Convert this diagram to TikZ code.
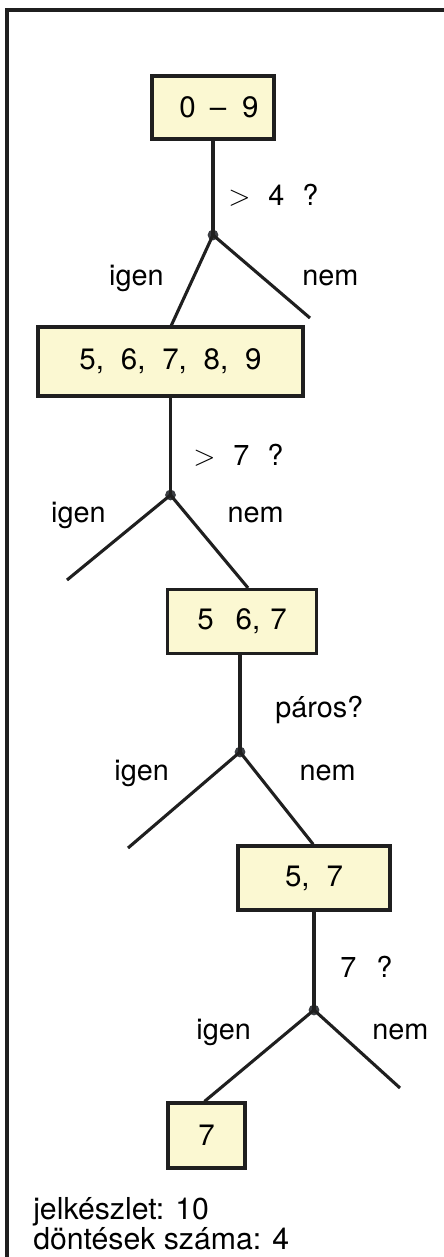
\documentclass[tikz,border=0pt]{standalone}
\usepackage{fontspec}
\setmainfont{TeX Gyre Heros}
\usetikzlibrary{calc}
\definecolor{inkgray}{HTML}{1F1F1F}
\definecolor{paleyellow}{HTML}{FBF8D2}
\definecolor{dotgray}{HTML}{3A3D42}
\newcommand{\gap}[1]{\hspace{#1cm}}

\begin{document}
\begin{tikzpicture}[
  box/.style={draw=inkgray,fill=paleyellow,line width=2.4pt,inner sep=0pt,
    font=\fontsize{21}{24}\selectfont},
  br/.style={draw=inkgray,line width=2.2pt},
  q/.style={font=\fontsize{20.5}{24}\selectfont,inner sep=0pt,anchor=west},
  yn/.style={font=\fontsize{20.5}{24}\selectfont,inner sep=0pt},
  jn/.style={circle,fill=dotgray,inner sep=0pt,minimum size=0.27cm}]
\useasboundingbox (0,0) rectangle (11.075,-31.425);
% frame
\draw[inkgray,line width=2.4pt] (11.2,-0.25) -- (0.175,-0.25) -- (0.175,-31.6);
% sets
\node[box,minimum width=3.05cm,minimum height=1.575cm] (b1) at (5.325,-2.69) {\gap{0.3}0\gap{0.35}–\gap{0.4}9};
\node[box,minimum width=6.625cm,minimum height=1.725cm] (b2) at (4.2625,-9.04) {5,\gap{0.42}6,\gap{0.42}7,\gap{0.42}8,\gap{0.42}9};
\node[box,minimum width=3.725cm,minimum height=1.6cm] (b3) at (6.05,-15.54) {5\gap{0.55}6,\gap{0.25}7};
\node[box,minimum width=3.8cm,minimum height=1.6cm] (b4) at (7.85,-21.95) {5,\gap{0.42}7};
\node[box,minimum width=1.925cm,minimum height=1.625cm] (b5) at (5.1625,-28.39) {7};
% decision points and loose branch ends
\node[jn] (j1) at (5.325,-5.875) {};
\node[jn] (j2) at (4.2625,-12.375) {};
\node[jn] (j3) at (6.0,-18.8) {};
\node[jn] (j4) at (7.85,-25.25) {};
\coordinate (e1) at (7.75,-7.95);
\coordinate (e2) at (1.675,-14.5);
\coordinate (e3) at (3.2,-21.2);
\coordinate (e4) at (10.0,-27.2);
% branches
\draw[br] (b1.south) -- (j1.center);
\draw[br] (j1.center) -- ($(b2.north)+(0.02,0)$);
\draw[br] (j1.center) -- (e1);
\draw[br] (b2.south) -- (j2.center);
\draw[br] (j2.center) -- (e2);
\draw[br] (j2.center) -- ($(b3.north)+(0.15,0)$);
\draw[br] ($(b3.south)+(-0.05,0)$) -- (j3.center);
\draw[br] (j3.center) -- (e3);
\draw[br] (j3.center) -- ($(b4.north)+(-0.02,0)$);
\draw[br] (b4.south) -- (j4.center);
\draw[br] (j4.center) -- ($(b5.north)+(-0.05,0)$);
\draw[br] (j4.center) -- (e4);
% questions
\node[q] (q1) at (5.7,-4.875) {$>$\gap{0.45}4\gap{0.45}?};
\node[q] (q2) at (4.825,-11.375) {$>$\gap{0.45}7\gap{0.45}?};
\node[q] (q3) at (6.875,-17.75) {páros?};
\node[q] (q4) at (8.5,-24.175) {7\gap{0.5}?};
% answers
\node[yn] (y1) at (3.41,-6.95) {igen};
\node[yn] (n1) at (8.26,-6.95) {nem};
\node[yn] (y2) at (1.96,-12.875) {igen};
\node[yn] (n2) at (6.39,-12.875) {nem};
\node[yn] (y3) at (3.54,-19.325) {igen};
\node[yn] (n3) at (8.19,-19.325) {nem};
\node[yn] (y4) at (5.59,-25.8) {igen};
\node[yn] (n4) at (10.01,-25.8) {nem};
% summary
\node[font=\fontsize{21.5}{19}\selectfont,align=left,inner sep=0pt,anchor=west] (sum) at (0.825,-30.6)
  {jelkészlet: 10\\döntések száma: 4};
\end{tikzpicture}
\end{document}
